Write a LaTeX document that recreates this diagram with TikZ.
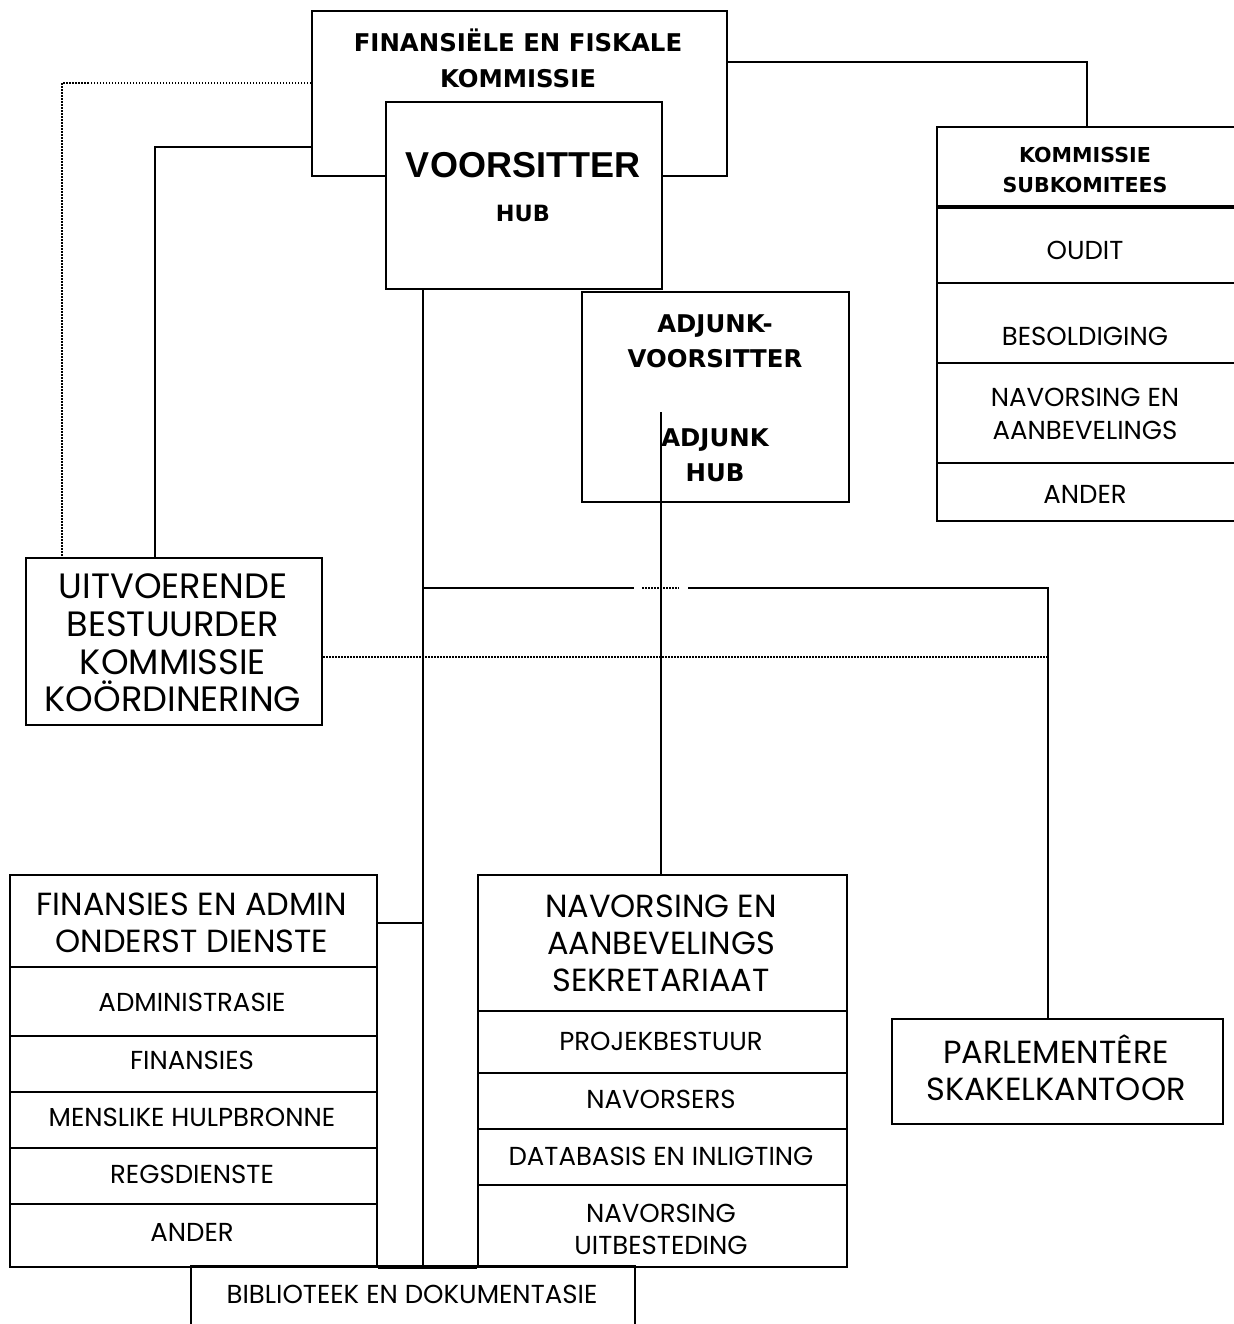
\documentclass[tikz,border=0pt]{standalone}
\usepackage{fontspec}
\newfontfamily\gothic{Poppins}
\newfontfamily\tahb{DejaVu Sans}
\newfontfamily\arialb{Liberation Sans}
\usetikzlibrary{calc}
\begin{document}
\begin{tikzpicture}[x=0.5pt,y=-0.5pt,line width=1pt,
  box/.style={draw,line width=1pt,inner sep=0pt,fill=white,anchor=north west},
  frame/.style={draw=none,inner sep=0pt,anchor=north west},
  txt/.style={inner sep=0pt,align=center,anchor=center},
  bhead/.style={txt,font=\tahb\bfseries\fontsize{12.2}{18}\selectfont},
  ghead/.style={txt,font=\gothic\fontsize{16}{18.5}\selectfont},
  gitem/.style={txt,font=\gothic\fontsize{13}{16.3}\selectfont},
  dotl/.style={line width=0.75pt,dash pattern=on 0.75pt off 0.75pt},
  thick sep/.style={line width=1.8pt}]
\useasboundingbox[fill=white] (0,0) rectangle (1234,1324);

% top commission and chair
\node[box,minimum width=415*0.5pt,minimum height=165*0.5pt] (ffk) at (311,10) {};
\node[bhead] (ffkt) at (518,58) {FINANSIËLE EN FISKALE\\KOMMISSIE};
\node[box,minimum width=276*0.5pt,minimum height=187*0.5pt] (vs) at (385,101) {};
\node[txt,font=\arialb\bfseries\fontsize{18}{20}\selectfont] (vst) at (523,165) {VOORSITTER};
\node[txt,font=\tahb\bfseries\fontsize{11.2}{13}\selectfont] (vsh) at (523,213) {HUB};

% deputy chair
\node[box,minimum width=267*0.5pt,minimum height=210*0.5pt] (adj) at (581,291) {};
\node[bhead,font=\tahb\bfseries\fontsize{12.2}{17.5}\selectfont] (adjt) at (715,341) {ADJUNK-\\VOORSITTER};
\node[bhead,font=\tahb\bfseries\fontsize{12.2}{17.5}\selectfont] (adjh) at (715,455) {ADJUNK\\HUB};

% subcommittees (open to the right)
\node[frame,minimum width=297*0.5pt,minimum height=392*0.5pt] (subk) at (937,127) {};
\draw (subk.north east) -- (subk.north west) -- (subk.south west) -- (subk.south east);
\draw[thick sep] ($(subk.north west)+(0,80)$) -- ++(297,0);
\draw ($(subk.north west)+(0,156)$) -- ++(297,0);
\draw ($(subk.north west)+(0,236)$) -- ++(297,0);
\draw ($(subk.north west)+(0,336)$) -- ++(297,0);
\node[bhead,font=\tahb\bfseries\fontsize{10.3}{15}\selectfont] (subkt) at (1085,170) {KOMMISSIE\\SUBKOMITEES};
\node[gitem] (sk1) at (1085,250) {OUDIT};
\node[gitem] (sk2) at (1085,336) {BESOLDIGING};
\node[gitem] (sk3) at (1085,414) {NAVORSING EN\\AANBEVELINGS};
\node[gitem] (sk4) at (1085,494) {ANDER};

% executive director
\node[box,minimum width=296*0.5pt,minimum height=167*0.5pt] (uit) at (25,557) {};
\node[txt,font=\gothic\fontsize{17.6}{18.85}\selectfont] (uitt) at (173,643) {UITVOERENDE\\BESTUURDER\\KOMMISSIE\\KOÖRDINERING};

% finance and admin
\node[box,minimum width=367*0.5pt,minimum height=392*0.5pt] (fin) at (9,874) {};
\foreach \y in {93,162,218,274,330} \draw ($(fin.north west)+(0,\y)$) -- ++(367,0);
\node[ghead] (fint) at (192,923) {FINANSIES EN ADMIN\\ONDERST DIENSTE};
\node[gitem] (fi1) at (192,1002) {ADMINISTRASIE};
\node[gitem] (fi2) at (192,1060) {FINANSIES};
\node[gitem] (fi3) at (192,1117) {MENSLIKE HULPBRONNE};
\node[gitem] (fi4) at (192,1174) {REGSDIENSTE};
\node[gitem] (fi5) at (192,1232) {ANDER};

% research secretariat
\node[box,minimum width=369*0.5pt,minimum height=392*0.5pt] (nav) at (477,874) {};
\foreach \y in {137,199,255,311} \draw ($(nav.north west)+(0,\y)$) -- ++(369,0);
\node[ghead] (navt) at (661,943) {NAVORSING EN\\AANBEVELINGS\\SEKRETARIAAT};
\node[gitem] (na1) at (661,1041) {PROJEKBESTUUR};
\node[gitem] (na2) at (661,1099) {NAVORSERS};
\node[gitem] (na3) at (661,1156) {DATABASIS EN INLIGTING};
\node[gitem,font=\gothic\fontsize{13}{16}\selectfont] (na4) at (661,1229) {NAVORSING\\UITBESTEDING};

% library (open at bottom)
\node[frame,minimum width=442*0.5pt,minimum height=62*0.5pt] (lib) at (191,1266) {};
\draw (lib.south west) -- (lib.north west) -- (lib.north east) -- (lib.south east);
\node[gitem] (libt) at (412,1294) {BIBLIOTEEK EN DOKUMENTASIE};

% parliamentary office
\node[box,minimum width=331*0.5pt,minimum height=105*0.5pt] (parl) at (891,1018) {};
\node[ghead] (parlt) at (1056,1068) {PARLEMENTÊRE\\SKAKELKANTOOR};

% connectors
\draw ($(ffk.north east)+(0,52)$) -| (subk.north);
\draw[dotl] ($(ffk.north west)+(0,73)$) -| ($(uit.north west)+(37,0)$);
\draw ($(ffk.north west)+(0,137)$) -| ($(uit.north west)+(130,0)$);
\coordinate (m0) at ($(vs.south west)+(38,0)$);
\draw (m0) -- (m0 |- fin.south);
\coordinate (f1) at ($(fin.north east)+(0,49)$);
\draw (f1) -- (f1 -| m0);
\draw (fin.south east) -- (nav.south west);
\coordinate (h0) at (m0 |- 0,588);
\coordinate (p1) at ($(parl.north west)+(157,0)$);
\draw (h0) -- (h0 -| 634,0);
\draw[dotl] (642,588) -- (679,588);
\draw (688,588) -| (p1);
\coordinate (d1) at ($(uit.north east)+(0,100)$);
\draw[dotl] (d1) -- (d1 -| p1);
\coordinate (a1) at ($(adj.north west)+(80,121)$);
\draw (a1) -- (a1 |- nav.north);
\end{tikzpicture}
\end{document}
